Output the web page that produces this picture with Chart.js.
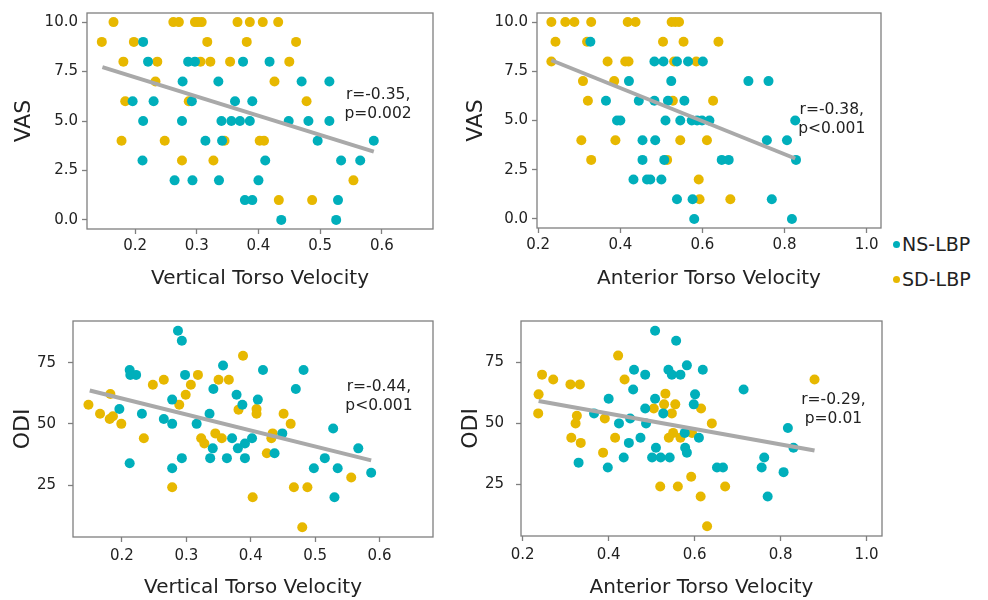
<!DOCTYPE html>
<html>
<head>
<meta charset="utf-8">
<script src="https://cdn.jsdelivr.net/npm/chart.js@4.4.0/dist/chart.umd.min.js"></script>
<style>
  body { margin: 0; background: #fff; }
  #wrap { position: relative; width: 988px; height: 600px; overflow: hidden; font-family: "DejaVu Sans", sans-serif; }
  #wrap canvas { position: absolute; }
  .key { position: absolute; left: 893px; font-size: 19px; line-height: 24px; color: #222; white-space: nowrap; }
  .key .dot { display: inline-block; width: 7px; height: 7px; border-radius: 50%; margin-right: 2px; vertical-align: 3px; }
</style>
</head>
<body>
<div id="wrap">
  <canvas id="vasVertical" width="440" height="300" style="left:0;top:0"></canvas>
  <canvas id="vasAnterior" width="440" height="300" style="left:450px;top:0"></canvas>
  <canvas id="odiVertical" width="440" height="300" style="left:0;top:300px"></canvas>
  <canvas id="odiAnterior" width="440" height="300" style="left:450px;top:300px"></canvas>
</div>
<script>
const groups = ['NS-LBP', 'SD-LBP'];
const groupColors = ['#00AFBB', '#E7B800'];

const vertTicks = [0.2, 0.3, 0.4, 0.5, 0.6];
const vertTickLabels = ['0.2', '0.3', '0.4', '0.5', '0.6'];
const antTicks = [0.2, 0.4, 0.6, 0.8, 1.0];
const antTickLabels = ['0.2', '0.4', '0.6', '0.8', '1.0'];
const vasTicks = [0, 2.5, 5, 7.5, 10];
const vasTickLabels = ['0.0', '2.5', '5.0', '7.5', '10.0'];
const odiTicks = [25, 50, 75];
const odiTickLabels = ['25', '50', '75'];

// VAS vs vertical torso velocity, [velocity, VAS]
const vasVertNS = [
  [0.213, 9],
  [0.221, 8], [0.286, 8], [0.297, 8], [0.375, 8], [0.418, 8],
  [0.277, 7], [0.335, 7], [0.470, 7], [0.515, 7],
  [0.196, 6], [0.230, 6], [0.292, 6], [0.362, 6], [0.390, 6],
  [0.213, 5], [0.276, 5], [0.340, 5], [0.356, 5], [0.370, 5], [0.386, 5], [0.449, 5], [0.481, 5], [0.515, 5],
  [0.314, 4], [0.341, 4], [0.496, 4], [0.587, 4],
  [0.212, 3], [0.411, 3], [0.534, 3], [0.565, 3],
  [0.264, 2], [0.293, 2], [0.336, 2], [0.400, 2],
  [0.378, 1], [0.390, 1], [0.529, 1],
  [0.437, 0], [0.526, 0]
];
const vasVertSD = [
  [0.165, 10], [0.262, 10], [0.271, 10], [0.297, 10], [0.302, 10], [0.308, 10], [0.366, 10], [0.386, 10], [0.407, 10], [0.432, 10],
  [0.146, 9], [0.198, 9], [0.317, 9], [0.381, 9], [0.461, 9],
  [0.181, 8], [0.236, 8], [0.306, 8], [0.322, 8], [0.354, 8], [0.450, 8],
  [0.233, 7], [0.426, 7],
  [0.184, 6], [0.287, 6], [0.478, 6],
  [0.178, 4], [0.248, 4], [0.345, 4], [0.402, 4], [0.409, 4],
  [0.276, 3], [0.327, 3],
  [0.554, 2],
  [0.433, 1], [0.487, 1]
];
const vasVertFit = [[0.147, 7.72], [0.587, 3.45]];

// VAS vs anterior torso velocity
const vasAntNS = [
  [0.327, 9],
  [0.483, 8], [0.505, 8], [0.538, 8], [0.565, 8], [0.601, 8],
  [0.421, 7], [0.524, 7], [0.712, 7], [0.761, 7],
  [0.365, 6], [0.445, 6], [0.483, 6], [0.516, 6], [0.556, 6],
  [0.392, 5], [0.400, 5], [0.510, 5], [0.546, 5], [0.574, 5], [0.587, 5], [0.599, 5], [0.617, 5], [0.826, 5],
  [0.454, 4], [0.485, 4], [0.757, 4], [0.806, 4],
  [0.454, 3], [0.507, 3], [0.647, 3], [0.664, 3], [0.828, 3],
  [0.432, 2], [0.465, 2], [0.473, 2], [0.500, 2],
  [0.538, 1], [0.576, 1], [0.769, 1],
  [0.580, 0], [0.818, 0]
];
const vasAntSD = [
  [0.232, 10], [0.266, 10], [0.288, 10], [0.329, 10], [0.418, 10], [0.437, 10], [0.525, 10], [0.534, 10], [0.543, 10],
  [0.242, 9], [0.319, 9], [0.504, 9], [0.554, 9], [0.639, 9],
  [0.232, 8], [0.369, 8], [0.412, 8], [0.420, 8], [0.531, 8], [0.585, 8],
  [0.309, 7], [0.385, 7],
  [0.321, 6], [0.528, 6], [0.626, 6],
  [0.305, 4], [0.388, 4], [0.546, 4], [0.611, 4],
  [0.329, 3], [0.514, 3],
  [0.591, 2],
  [0.593, 1], [0.668, 1]
];
const vasAntFit = [[0.232, 8.06], [0.826, 3.07]];

// ODI vs vertical torso velocity
const odiVertNS = [
  [0.287, 88.0], [0.293, 83.9], [0.212, 72.0], [0.213, 70.0], [0.222, 70.0], [0.298, 70.0],
  [0.357, 73.8], [0.419, 72.0], [0.482, 72.0], [0.342, 64.2], [0.378, 61.9], [0.470, 64.2],
  [0.278, 59.9], [0.411, 59.9], [0.387, 57.8], [0.196, 56.1], [0.231, 54.1], [0.265, 52.0],
  [0.278, 50.0], [0.316, 50.0], [0.336, 54.1], [0.371, 44.1], [0.402, 44.1], [0.391, 42.0],
  [0.380, 40.0], [0.341, 40.0], [0.449, 46.1], [0.437, 38.0], [0.293, 36.0], [0.337, 36.0],
  [0.363, 36.0], [0.391, 36.0], [0.212, 33.9], [0.278, 31.9], [0.528, 48.1], [0.567, 40.0],
  [0.515, 36.0], [0.498, 31.9], [0.535, 31.9], [0.587, 30.0], [0.530, 20.0]
];
const odiVertSD = [
  [0.148, 57.8], [0.166, 54.1], [0.181, 52.0], [0.186, 53.1], [0.182, 62.2], [0.199, 50.0],
  [0.234, 44.1], [0.248, 66.0], [0.265, 68.0], [0.289, 57.8], [0.299, 61.9], [0.307, 66.0],
  [0.318, 70.0], [0.278, 24.1], [0.350, 68.0], [0.366, 68.0], [0.388, 77.8], [0.381, 55.8],
  [0.409, 56.1], [0.409, 54.1], [0.323, 44.1], [0.328, 42.0], [0.345, 46.1], [0.355, 44.1],
  [0.434, 46.1], [0.432, 44.1], [0.425, 38.0], [0.451, 54.1], [0.462, 50.0], [0.403, 20.0],
  [0.467, 24.1], [0.488, 24.1], [0.480, 7.8], [0.556, 28.1]
];
const odiVertFit = [[0.150, 63.6], [0.587, 35.1]];

// ODI vs anterior torso velocity
const odiAntNS = [
  [0.508, 88.0], [0.557, 83.9], [0.582, 73.8], [0.619, 72.0], [0.459, 72.0], [0.485, 70.0],
  [0.539, 72.0], [0.547, 70.0], [0.567, 70.0], [0.457, 63.9], [0.601, 61.9], [0.714, 63.9],
  [0.400, 60.1], [0.508, 60.1], [0.598, 57.8], [0.485, 56.1], [0.366, 54.1], [0.527, 54.1],
  [0.450, 52.0], [0.424, 50.0], [0.487, 50.0], [0.577, 46.1], [0.610, 44.1], [0.474, 44.1],
  [0.447, 42.0], [0.510, 40.0], [0.578, 40.0], [0.582, 38.0], [0.435, 36.0], [0.501, 36.0],
  [0.521, 36.0], [0.542, 36.0], [0.330, 33.9], [0.398, 31.9], [0.652, 31.9], [0.666, 31.9],
  [0.756, 31.9], [0.762, 36.0], [0.817, 48.1], [0.830, 40.0], [0.807, 30.0], [0.770, 20.0]
];
const odiAntSD = [
  [0.245, 70.0], [0.271, 68.0], [0.237, 61.9], [0.236, 54.1], [0.311, 66.0], [0.333, 66.0],
  [0.422, 77.8], [0.437, 68.0], [0.326, 53.1], [0.323, 50.0], [0.313, 44.1], [0.335, 42.0],
  [0.391, 52.0], [0.415, 44.1], [0.387, 38.0], [0.505, 56.1], [0.532, 62.2], [0.529, 57.8],
  [0.555, 57.8], [0.547, 54.1], [0.615, 56.1], [0.640, 50.0], [0.540, 44.1], [0.550, 46.1],
  [0.567, 44.1], [0.594, 46.1], [0.592, 28.1], [0.520, 24.1], [0.561, 24.1], [0.614, 20.0],
  [0.671, 24.1], [0.629, 7.8], [0.879, 68.0]
];
const odiAntFit = [[0.237, 59.2], [0.879, 38.9]];

const axisGray = '#7f7f7f';
const fitGray = '#a9a9a9';
const textColor = '#222';
const fontFamily = '"DejaVu Sans", sans-serif';

function toPoints(pairs) {
  return pairs.map(p => ({ x: p[0], y: p[1] }));
}

// panel border drawn on all four sides like the ggplot frame
const framePlugin = {
  id: 'frame',
  beforeDatasetsDraw(chart) {
    const { ctx, chartArea: a } = chart;
    ctx.save();
    ctx.strokeStyle = axisGray;
    ctx.lineWidth = 1.3;
    ctx.strokeRect(a.left, a.top, a.right - a.left, a.bottom - a.top);
    ctx.restore();
  }
};

// r / p annotation placed in data coordinates
const notePlugin = {
  id: 'note',
  afterDatasetsDraw(chart, args, opts) {
    const { ctx, scales } = chart;
    const cx = scales.x.getPixelForValue(opts.x);
    const cy = scales.y.getPixelForValue(opts.y);
    ctx.save();
    ctx.fillStyle = textColor;
    ctx.font = '15.5px ' + fontFamily;
    ctx.textAlign = 'center';
    ctx.textBaseline = 'middle';
    const gap = 18.5;
    opts.lines.forEach((t, i) => {
      ctx.fillText(t, cx, cy + (i - (opts.lines.length - 1) / 2) * gap);
    });
    ctx.restore();
  }
};

function makePanel(id, p) {
  const tickFont = { family: fontFamily, size: 15 };
  const titleFont = { family: fontFamily, size: 20 };
  new Chart(document.getElementById(id), {
    type: 'scatter',
    data: {
      datasets: [
        { data: toPoints(p.fit), showLine: true, borderColor: fitGray, borderWidth: 4, pointRadius: 0, borderCapStyle: 'butt' },
        { label: groups[0], data: toPoints(p.ns), backgroundColor: groupColors[0], borderWidth: 0, pointRadius: 5 },
        { label: groups[1], data: toPoints(p.sd), backgroundColor: groupColors[1], borderWidth: 0, pointRadius: 5 }
      ]
    },
    options: {
      responsive: false,
      animation: false,
      devicePixelRatio: 1,
      layout: { padding: { left: 0, top: p.top, right: p.right, bottom: 0 } },
      plugins: {
        legend: { display: false },
        tooltip: { enabled: false },
        note: p.note
      },
      scales: {
        x: {
          type: 'linear',
          min: p.xMin,
          max: p.xMax,
          afterFit: s => { s.height = p.xH; },
          afterBuildTicks: s => { s.ticks = p.xTicks.map(v => ({ value: v })); },
          ticks: { callback: (v, i) => p.xLabels[i], font: tickFont, color: textColor, padding: p.xTickPad, maxRotation: 0, autoSkip: false },
          grid: { drawOnChartArea: false, tickLength: 5, color: axisGray, tickWidth: 1.3 },
          border: { display: false },
          title: { display: true, text: p.xTitle, font: titleFont, color: textColor, padding: { top: 0, bottom: p.xTitlePad } }
        },
        y: {
          min: p.yMin,
          max: p.yMax,
          afterFit: s => { s.width = p.yW; },
          afterBuildTicks: s => { s.ticks = p.yTicks.map(v => ({ value: v })); },
          ticks: { callback: (v, i) => p.yLabels[i], font: tickFont, color: textColor, padding: p.yTickPad },
          grid: { drawOnChartArea: false, tickLength: 5, color: axisGray, tickWidth: 1.3 },
          border: { display: false },
          title: { display: true, text: p.yTitle, font: { family: fontFamily, size: 22 }, color: textColor, padding: { top: p.yTitlePad, bottom: 0 } }
        }
      }
    },
    plugins: [framePlugin, notePlugin]
  });
}

makePanel('vasVertical', {
  ns: vasVertNS, sd: vasVertSD, fit: vasVertFit,
  note: { x: 0.594, y: 5.83, lines: ['r=-0.35,', 'p=0.002'] },
  xMin: 0.122, xMax: 0.683, yMin: -0.46, yMax: 10.46,
  xTicks: vertTicks, xLabels: vertTickLabels, yTicks: vasTicks, yLabels: vasTickLabels,
  xTitle: 'Vertical Torso Velocity', yTitle: 'VAS',
  top: 12, right: 7, yW: 87, xH: 71, xTickPad: 3, yTickPad: 4, xTitlePad: 9, yTitlePad: 11
});

makePanel('vasAnterior', {
  ns: vasAntNS, sd: vasAntSD, fit: vasAntFit,
  note: { x: 0.915, y: 5.06, lines: ['r=-0.38,', 'p<0.001'] },
  xMin: 0.197, xMax: 1.035, yMin: -0.46, yMax: 10.46,
  xTicks: antTicks, xLabels: antTickLabels, yTicks: vasTicks, yLabels: vasTickLabels,
  xTitle: 'Anterior Torso Velocity', yTitle: 'VAS',
  top: 12, right: 9, yW: 87, xH: 72, xTickPad: 3, yTickPad: 4, xTitlePad: 9, yTitlePad: 13
});

makePanel('odiVertical', {
  ns: odiVertNS, sd: odiVertSD, fit: odiVertFit,
  note: { x: 0.599, y: 61.1, lines: ['r=-0.44,', 'p<0.001'] },
  xMin: 0.124, xMax: 0.683, yMin: 3.8, yMax: 92,
  xTicks: vertTicks, xLabels: vertTickLabels, yTicks: odiTicks, yLabels: odiTickLabels,
  xTitle: 'Vertical Torso Velocity', yTitle: 'ODI',
  top: 21, right: 7, yW: 73, xH: 63, xTickPad: 5, yTickPad: 12, xTitlePad: 0, yTitlePad: 10
});

makePanel('odiAnterior', {
  ns: odiAntNS, sd: odiAntSD, fit: odiAntFit,
  note: { x: 0.923, y: 55.65, lines: ['r=-0.29,', 'p=0.01'] },
  xMin: 0.196, xMax: 1.036, yMin: 3.8, yMax: 92,
  xTicks: antTicks, xLabels: antTickLabels, yTicks: odiTicks, yLabels: odiTickLabels,
  xTitle: 'Anterior Torso Velocity', yTitle: 'ODI',
  top: 21, right: 8, yW: 71, xH: 64, xTickPad: 5, yTickPad: 12, xTitlePad: 0, yTitlePad: 8
});

// legend to the right of the panels
const wrap = document.getElementById('wrap');
const keyTops = [232, 267];
groups.forEach((g, i) => {
  const item = document.createElement('div');
  item.className = 'key';
  item.style.top = keyTops[i] + 'px';
  const dot = document.createElement('span');
  dot.className = 'dot';
  dot.style.background = groupColors[i];
  item.appendChild(dot);
  item.appendChild(document.createTextNode(g));
  wrap.appendChild(item);
});
</script>
</body>
</html>
